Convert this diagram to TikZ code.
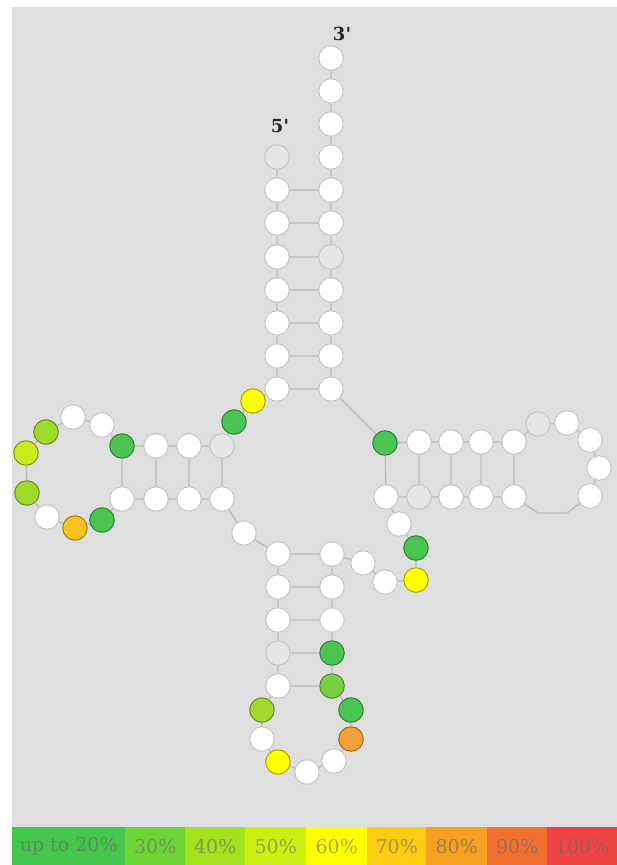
\documentclass[tikz,border=0pt]{standalone}
\usepackage{fontspec}
\setmainfont{DejaVu Serif}
\newfontfamily\labfont{DejaVu Serif}[Ligatures=TeXOff]
\definecolor{bg}{HTML}{DFDFDF}
\definecolor{lnk}{HTML}{BDBDBD}
\definecolor{ntb}{HTML}{C6C6C6}
\definecolor{ngray}{HTML}{E6E6E6}
\definecolor{cA}{HTML}{45C64C}
\definecolor{cB}{HTML}{6DD636}
\definecolor{cC}{HTML}{A2E21E}
\definecolor{cD}{HTML}{CBEF12}
\definecolor{cE}{HTML}{FFFF00}
\definecolor{cF}{HTML}{FDCB12}
\definecolor{cG}{HTML}{F5A020}
\definecolor{cH}{HTML}{F07030}
\definecolor{cI}{HTML}{EE4444}
\definecolor{nA}{HTML}{4AC552}
\definecolor{nB}{HTML}{79D045}
\definecolor{nC}{HTML}{A0DA2C}
\definecolor{nD}{HTML}{C8EA1E}
\definecolor{nF}{HTML}{F5C21E}
\definecolor{nG}{HTML}{F0A236}
\tikzset{
  nt/.style={circle, minimum size=24.5pt, inner sep=0pt, draw=ntb, line width=1pt, fill=white},
  gr/.style={nt, fill=ngray},
  col/.style={nt, fill=#1, draw=#1!65!black},
  bb/.style={draw=lnk, line width=1.4pt},
  pr/.style={draw=lnk, line width=1.4pt},
  endlab/.style={font=\labfont\bfseries\fontsize{18}{20}\selectfont, text=black!85},
  legbox/.style={inner sep=0pt, minimum height=38pt, anchor=north west, text=black!60, text opacity=0.55, font=\fontsize{19}{22}\selectfont}
}
\begin{document}
\begin{tikzpicture}[x=1pt,y=-1pt]
\useasboundingbox (0,0) rectangle (617,865);
\fill[white] (0,0) rectangle (617,865);
\fill[bg] (12,7) rectangle (617,827);
% acceptor 5' strand
\node[gr] (a1) at (277,157) {};
\node[nt] (a2) at (277,190) {};
\node[nt] (a3) at (277,223) {};
\node[nt] (a4) at (277,257) {};
\node[nt] (a5) at (277,290) {};
\node[nt] (a6) at (277,323) {};
\node[nt] (a7) at (277,356) {};
\node[nt] (a8) at (277,389) {};
\node[col=cE] (j1) at (253,401) {};
\node[col=nA] (j2) at (234,422) {};
% D stem top
\node[gr] (d1) at (222,446) {};
\node[nt] (d2) at (189,446) {};
\node[nt] (d3) at (156,446) {};
\node[col=nA] (d4) at (122,446) {};
% D loop
\node[nt] (dl1) at (102,425) {};
\node[nt] (dl2) at (73,417) {};
\node[col=nC] (dl3) at (46,432) {};
\node[col=nD] (dl4) at (26,453) {};
\node[col=nC] (dl5) at (27,493) {};
\node[nt] (dl6) at (47,517) {};
\node[col=nF] (dl7) at (75,528) {};
\node[col=nA] (dl8) at (102,520) {};
% D stem bottom
\node[nt] (d5) at (122,499) {};
\node[nt] (d6) at (156,499) {};
\node[nt] (d7) at (189,499) {};
\node[nt] (d8) at (222,499) {};
\node[nt] (j3) at (244,533) {};
% anticodon stem left
\node[nt] (c1) at (278,554) {};
\node[nt] (c2) at (278,587) {};
\node[nt] (c3) at (278,620) {};
\node[gr] (c4) at (278,653) {};
\node[nt] (c5) at (278,686) {};
% anticodon loop
\node[col=nC] (cl1) at (262,710) {};
\node[nt] (cl2) at (262,739) {};
\node[col=cE] (cl3) at (278,762) {};
\node[nt] (cl4) at (307,772) {};
\node[nt] (cl5) at (334,761) {};
\node[col=nG] (cl6) at (351,739) {};
\node[col=nA] (cl7) at (351,710) {};
% anticodon stem right
\node[col=nB] (c6) at (332,686) {};
\node[col=nA] (c7) at (332,653) {};
\node[nt] (c8) at (332,620) {};
\node[nt] (c9) at (332,587) {};
\node[nt] (c10) at (332,554) {};
% variable loop
\node[nt] (v1) at (363,563) {};
\node[nt] (v2) at (385,582) {};
\node[col=cE] (v3) at (416,580) {};
\node[col=nA] (v4) at (416,548) {};
\node[nt] (v5) at (399,524) {};
% T stem bottom
\node[nt] (t1) at (386,497) {};
\node[gr] (t2) at (419,497) {};
\node[nt] (t3) at (451,497) {};
\node[nt] (t4) at (481,497) {};
\node[nt] (t5) at (514,497) {};
\coordinate (b1) at (538,513);
\coordinate (b2) at (567,513);
% T loop
\node[nt] (tl1) at (590,496) {};
\node[nt] (tl2) at (599,468) {};
\node[nt] (tl3) at (590,440) {};
\node[nt] (tl4) at (567,423) {};
\node[gr] (tl5) at (538,424) {};
% T stem top
\node[nt] (t6) at (514,442) {};
\node[nt] (t7) at (481,442) {};
\node[nt] (t8) at (451,442) {};
\node[nt] (t9) at (419,442) {};
\node[col=nA] (t10) at (385,443) {};
% acceptor 3' strand
\node[nt] (r1) at (331,389) {};
\node[nt] (r2) at (331,356) {};
\node[nt] (r3) at (331,323) {};
\node[nt] (r4) at (331,290) {};
\node[gr] (r5) at (331,257) {};
\node[nt] (r6) at (331,223) {};
\node[nt] (r7) at (331,190) {};
\node[nt] (r8) at (331,157) {};
\node[nt] (r9) at (331,124) {};
\node[nt] (r10) at (331,91) {};
\node[nt] (r11) at (331,58) {};
% end labels
\node[endlab] (l5) at (280,126) {5'};
\node[endlab] (l3) at (342,34) {3'};
% backbone
\draw[bb] (a1)--(a2) (a2)--(a3) (a3)--(a4) (a4)--(a5) (a5)--(a6) (a6)--(a7) (a7)--(a8) (a8)--(j1) (j1)--(j2) (j2)--(d1)
  (d1)--(d2) (d2)--(d3) (d3)--(d4) (d4)--(dl1) (dl1)--(dl2) (dl2)--(dl3) (dl3)--(dl4) (dl4)--(dl5) (dl5)--(dl6) (dl6)--(dl7) (dl7)--(dl8) (dl8)--(d5)
  (d5)--(d6) (d6)--(d7) (d7)--(d8) (d8)--(j3) (j3)--(c1)
  (c1)--(c2) (c2)--(c3) (c3)--(c4) (c4)--(c5) (c5)--(cl1) (cl1)--(cl2) (cl2)--(cl3) (cl3)--(cl4) (cl4)--(cl5) (cl5)--(cl6) (cl6)--(cl7) (cl7)--(c6)
  (c6)--(c7) (c7)--(c8) (c8)--(c9) (c9)--(c10) (c10)--(v1) (v1)--(v2) (v2)--(v3) (v3)--(v4) (v4)--(v5) (v5)--(t1)
  (t1)--(t2) (t2)--(t3) (t3)--(t4) (t4)--(t5) (t5)--(b1)--(b2)--(tl1) (tl1)--(tl2) (tl2)--(tl3) (tl3)--(tl4) (tl4)--(tl5) (tl5)--(t6)
  (t6)--(t7) (t7)--(t8) (t8)--(t9) (t9)--(t10) (t10)--(r1)
  (r1)--(r2) (r2)--(r3) (r3)--(r4) (r4)--(r5) (r5)--(r6) (r6)--(r7) (r7)--(r8) (r8)--(r9) (r9)--(r10) (r10)--(r11);
% base pairs
\draw[pr] (a2)--(r7) (a3)--(r6) (a4)--(r5) (a5)--(r4) (a6)--(r3) (a7)--(r2) (a8)--(r1)
  (d1)--(d8) (d2)--(d7) (d3)--(d6) (d4)--(d5)
  (c1)--(c10) (c2)--(c9) (c3)--(c8) (c4)--(c7) (c5)--(c6)
  (t1)--(t10) (t2)--(t9) (t3)--(t8) (t4)--(t7) (t5)--(t6);
% legend
\node[legbox, fill=cA, minimum width=113pt] (g1) at (12,827) {up to 20\%};
\node[legbox, fill=cB, minimum width=60pt] (g2) at (125,827) {30\%};
\node[legbox, fill=cC, minimum width=60pt] (g3) at (185,827) {40\%};
\node[legbox, fill=cD, minimum width=61pt] (g4) at (245,827) {50\%};
\node[legbox, fill=cE, minimum width=61pt] (g5) at (306,827) {60\%};
\node[legbox, fill=cF, minimum width=59pt] (g6) at (367,827) {70\%};
\node[legbox, fill=cG, minimum width=61pt] (g7) at (426,827) {80\%};
\node[legbox, fill=cH, minimum width=60pt] (g8) at (487,827) {90\%};
\node[legbox, fill=cI, minimum width=70pt] (g9) at (547,827) {100\%};
\end{tikzpicture}
\end{document}
